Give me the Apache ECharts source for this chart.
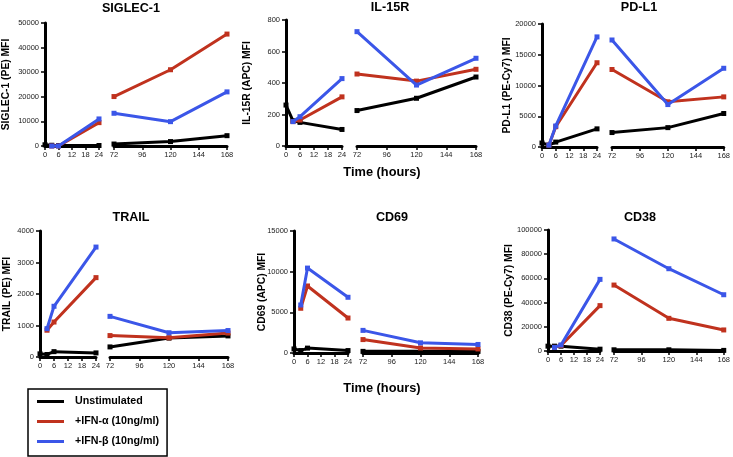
<!DOCTYPE html>
<html>
<head>
<meta charset="utf-8">
<script src="https://cdn.jsdelivr.net/npm/echarts@6/dist/echarts.min.js"></script>
<style>html,body{margin:0;padding:0;background:#fff}#c{width:733px;height:457px}</style>
</head>
<body>
<div id="c"></div>
<script>
// ---------- data ----------
const panelTitles = ['SIGLEC-1', 'IL-15R', 'PD-L1', 'TRAIL', 'CD69', 'CD38'];
const yAxisNames = ['SIGLEC-1 (PE) MFI', 'IL-15R (APC) MFI', 'PD-L1 (PE-Cy7) MFI', 'TRAIL (PE) MFI', 'CD69 (APC) MFI', 'CD38 (PE-Cy7) MFI'];
const yMax = [50000, 800, 20000, 4000, 15000, 100000];
const yStep = [10000, 200, 5000, 1000, 5000, 20000];
const seriesNames = ['Unstimulated', '+IFN-\u03b1 (10ng/ml)', '+IFN-\u03b2 (10ng/ml)'];
const xAxisTitle = 'Time (hours)';
const leftTimes = [0, 3, 6, 24];
const rightTimes = [72, 120, 168];

// values: first 4 -> leftTimes, last 3 -> rightTimes
const siglecUnstim = [500, 300, 200, 200, 800, 1800, 4200];
const siglecAlpha  = [null, 0, 0, 9500, 20100, 31000, 45500];
const siglecBeta   = [null, 0, 0, 11000, 13300, 9900, 22000];

const il15rUnstim = [260, 160, 150, 105, 225, 303, 438];
const il15rAlpha  = [null, 155, 165, 312, 457, 412, 487];
const il15rBeta   = [null, 155, 186, 428, 726, 387, 557];

const pdl1Unstim = [650, 300, 800, 2950, 2350, 3150, 5450];
const pdl1Alpha  = [null, 300, 3300, 13700, 12600, 7350, 8150];
const pdl1Beta   = [null, 300, 3420, 17900, 17400, 6900, 12800];

const trailUnstim = [100, 80, 170, 130, 320, 600, 670];
const trailAlpha  = [null, 850, 1110, 2520, 680, 610, 760];
const trailBeta   = [null, 900, 1610, 3490, 1290, 770, 840];

const cd69Unstim = [500, 300, 600, 300, 200, 200, 200];
const cd69Alpha  = [null, 5500, 8240, 4300, 1650, 620, 500];
const cd69Beta   = [null, 5900, 10440, 6850, 2780, 1250, 1050];

const cd38Unstim = [4000, 4000, 4000, 1500, 1000, 1000, 500];
const cd38Alpha  = [null, 3000, 4500, 37500, 54500, 27000, 17400];
const cd38Beta   = [null, 3000, 5000, 59200, 92600, 68000, 46500];

const panelData = [
  [siglecUnstim, siglecAlpha, siglecBeta],
  [il15rUnstim, il15rAlpha, il15rBeta],
  [pdl1Unstim, pdl1Alpha, pdl1Beta],
  [trailUnstim, trailAlpha, trailBeta],
  [cd69Unstim, cd69Alpha, cd69Beta],
  [cd38Unstim, cd38Alpha, cd38Beta]
];

// ---------- layout / style ----------
const FONT = 'Liberation Sans, Arial, Helvetica, sans-serif';
const colors = ['#000000', '#c0321e', '#3b56e8'];
const layout = [
  {yl: 44, x24: 99, x72: 114, x168: 227, top: 23, bottom: 146, gap: 34, tx: 131, ty: 2},
  {yl: 286, x24: 342, x72: 357, x168: 476, top: 20, bottom: 146, gap: 34, tx: 390, ty: 1},
  {yl: 542, x24: 597, x72: 612, x168: 726, top: 24, bottom: 147, gap: 30, tx: 639, ty: 1.5},
  {yl: 40, x24: 96, x72: 110, x168: 228, top: 231, bottom: 357, gap: 28, tx: 131, ty: 211.5},
  {yl: 294, x24: 348, x72: 363, x168: 478, top: 231, bottom: 353, gap: 27, tx: 392, ty: 211.5},
  {yl: 548, x24: 600, x72: 614, x168: 725, top: 230, bottom: 351, gap: 34, tx: 640, ty: 211.5}
];

const grids = [], xAxes = [], yAxes = [], series = [], titles = [];
const axisLineStyle = {show: true, lineStyle: {color: '#000', width: 3}};
const tickStyle = {show: true, length: 4, lineStyle: {color: '#000', width: 1.5}};
const labelStyle = {fontSize: 7.5, color: '#222', fontFamily: FONT, formatter: v => String(v)};

layout.forEach((L, p) => {
  const h = L.bottom - L.top;
  grids.push({left: L.yl, top: L.top, width: L.x24 - L.yl, height: h});
  grids.push({left: L.x72, top: L.top, width: L.x168 - L.x72, height: h});
  xAxes.push({type: 'value', gridIndex: 2 * p, min: 0, max: 24, interval: 6,
    axisLine: axisLineStyle, axisTick: tickStyle, splitLine: {show: false},
    axisLabel: Object.assign({margin: 5}, labelStyle)});
  xAxes.push({type: 'value', gridIndex: 2 * p + 1, min: 72, max: 168, interval: 24,
    axisLine: axisLineStyle, axisTick: tickStyle, splitLine: {show: false},
    axisLabel: Object.assign({margin: 5}, labelStyle)});
  yAxes.push({type: 'value', gridIndex: 2 * p, min: 0, max: yMax[p], interval: yStep[p],
    axisLine: axisLineStyle, axisTick: tickStyle, splitLine: {show: false},
    axisLabel: Object.assign({margin: 6}, labelStyle),
    name: yAxisNames[p], nameLocation: 'middle', nameGap: L.gap, nameMoveOverlap: false,
    nameTextStyle: {fontSize: 10.3, fontWeight: 'bold', color: '#000', fontFamily: FONT}});
  yAxes.push({type: 'value', gridIndex: 2 * p + 1, min: 0, max: yMax[p], interval: yStep[p],
    show: false, splitLine: {show: false}});
  titles.push({text: panelTitles[p], left: L.tx, top: L.ty, textAlign: 'center', padding: 0,
    textStyle: {fontSize: 12.6, fontWeight: 'bold', color: '#000', fontFamily: FONT}});

  panelData[p].forEach((vals, s) => {
    const common = {
      type: 'line', name: seriesNames[s], symbol: 'rect', symbolSize: 5,
      itemStyle: {color: colors[s]}, lineStyle: {color: colors[s], width: 3},
      clip: false, z: 2 + s, animation: false
    };
    const leftData = [];
    leftTimes.forEach((t, i) => { if (vals[i] !== null) leftData.push([t, vals[i]]); });
    const rightData = rightTimes.map((t, i) => [t, vals[4 + i]]);
    series.push(Object.assign({}, common, {xAxisIndex: 2 * p, yAxisIndex: 2 * p, data: leftData}));
    series.push(Object.assign({}, common, {xAxisIndex: 2 * p + 1, yAxisIndex: 2 * p + 1, data: rightData}));
  });
});

titles.push({text: xAxisTitle, left: 382, top: 165.5, textAlign: 'center', padding: 0,
  textStyle: {fontSize: 12.8, fontWeight: 'bold', color: '#000', fontFamily: FONT}});
titles.push({text: xAxisTitle, left: 382, top: 381.5, textAlign: 'center', padding: 0,
  textStyle: {fontSize: 12.8, fontWeight: 'bold', color: '#000', fontFamily: FONT}});

const chart = echarts.init(document.getElementById('c'), null, {renderer: 'canvas'});
chart.setOption({
  animation: false,
  backgroundColor: '#fff',
  title: titles,
  grid: grids,
  xAxis: xAxes,
  yAxis: yAxes,
  legend: {
    orient: 'vertical', left: 28, top: 389, data: seriesNames, icon: 'rect',
    itemWidth: 27, itemHeight: 3, itemGap: 9, padding: [7, 8, 9, 9],
    borderColor: '#000', borderWidth: 1.5, selectedMode: false,
    textStyle: {fontSize: 10.7, fontWeight: 'bold', color: '#000', fontFamily: FONT, padding: [0, 0, 0, 6]}
  },
  series: series
});
</script>
</body>
</html>
